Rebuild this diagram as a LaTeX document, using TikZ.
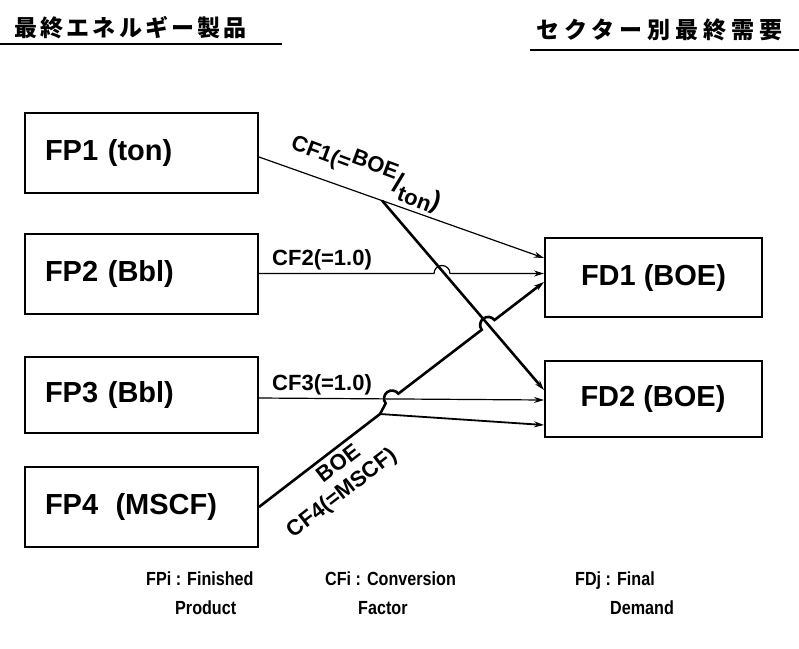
\documentclass[tikz,border=0pt]{standalone}
\usepackage{fontspec}
\setmainfont{Liberation Sans}
\newfontfamily\legf{Liberation Sans}[FakeStretch=0.85]
\newfontfamily\jp{Noto Sans CJK JP}[LetterSpace=14]
\usetikzlibrary{arrows.meta,calc}
\begin{document}
\begin{tikzpicture}[x=1pt,y=-1pt,
  box/.style={draw, line width=2pt, inner sep=0pt, font=\fontsize{29}{31}\selectfont\bfseries},
  fpbox/.style={box, text width=193pt, inner xsep=20pt, align=left, minimum height=80pt},
  fdbox/.style={box, minimum width=217pt, minimum height=78pt, align=center},
  cflab/.style={font=\fontsize{22}{24}\selectfont\bfseries, inner sep=0pt},
  leg/.style={font=\legf\fontsize{19}{21}\selectfont\bfseries, inner sep=0pt, anchor=base west},
  ttl/.style={font=\fontsize{23}{25}\selectfont\jp\bfseries, inner sep=0pt},
  thinln/.style={line width=1.2pt},
  thickln/.style={line width=2.6pt},
  medln/.style={line width=1.8pt},
  arr/.style={-{Stealth[length=10pt,width=6pt]}}]
\useasboundingbox (0,0) rectangle (799,648);

% titles
\node[ttl, anchor=base west] (t1) at (14,36) {最終エネルギー製品};
\node[ttl, anchor=base west] (t2) at (536,38) {\addfontfeature{LetterSpace=22}セクター別最終需要};
\draw[line width=1.4pt] (0,44) -- (282,44);
\draw[line width=1.4pt] (530,50) -- (799,50);

% boxes
\node[fpbox] (FP1) at (141.5,153) {FP1 (ton)};
\node[fpbox] (FP2) at (141.5,273.5) {FP2 (Bbl)};
\node[fpbox, minimum height=76pt] (FP3) at (141.5,394.5) {FP3 (Bbl)};
\node[fpbox] (FP4) at (141.5,507) {FP4\hspace{0.6em}(MSCF)};
\node[fdbox, minimum height=79pt] (FD1) at (653.5,277.5) {FD1 (BOE)};
\node[fdbox, minimum height=76pt] (FD2) at (653,399) {FD2 (BOE)};

% connector end points
\coordinate (s1) at ([yshift=-4pt]FP1.east);
\coordinate (d1a) at (544,258);
\coordinate (d1b) at (544,273.5);
\coordinate (d1c) at (544,282);
\coordinate (d2a) at (544,390);
\coordinate (d2b) at (544,400);
\coordinate (d2c) at (544,425);
\coordinate (J1) at ($(s1)!0.432!(d1a)$);
\coordinate (J4) at (380,414);

% FP1
\draw[thinln, arr] (s1) -- (d1a);
\draw[thickln, arr] (J1) -- (d2a);
% FP2 (jumps over FP1->FD2)
\draw[thinln, arr] (FP2.east) -- (434,273.5) arc[start angle=180, end angle=360, radius=8] -- (d1b);
% FP3
\draw[thinln, arr] ([yshift=-3.5pt]FP3.east) -- (d2b);
% FP4
\draw[thickln] (FP4.east) -- (J4);
\draw[thickln, arr] (J4) -- (385.65,403.36) arc[start angle=142.6, end angle=322.6, radius=8]
   -- (481.75,329.76) arc[start angle=142.6, end angle=322.6, radius=8] -- (d1c);
\draw[medln, arr] (J4) -- (d2c);

% conversion factor labels
\node[cflab, rotate=-20.5] (cf1) at (367,171) {CF1(=\raisebox{8pt}{BOE}\raisebox{-4pt}{\fontsize{28}{28}\selectfont /}\raisebox{-11pt}{ton}\raisebox{-6pt}{\fontsize{26}{26}\selectfont )}};
\node[cflab, anchor=base west] (cf2) at (272,265) {CF2(=1.0)};
\node[cflab, anchor=base west] (cf3) at (272,390) {CF3(=1.0)};
\node[cflab, rotate=37.5, align=left] (cf4) at (335,484) {\hspace*{2.6em}BOE\\[1pt]CF4(=MSCF)};

% legend
\node[leg] (l1) at (146,585) {FPi : Finished};
\node[leg] (l1b) at (175,614) {Product};
\node[leg] (l2) at (325,585) {CFi : Conversion};
\node[leg] (l2b) at (358,614) {Factor};
\node[leg] (l3) at (575,585) {FDj : Final};
\node[leg] (l3b) at (610,614) {Demand};
\end{tikzpicture}
\end{document}
